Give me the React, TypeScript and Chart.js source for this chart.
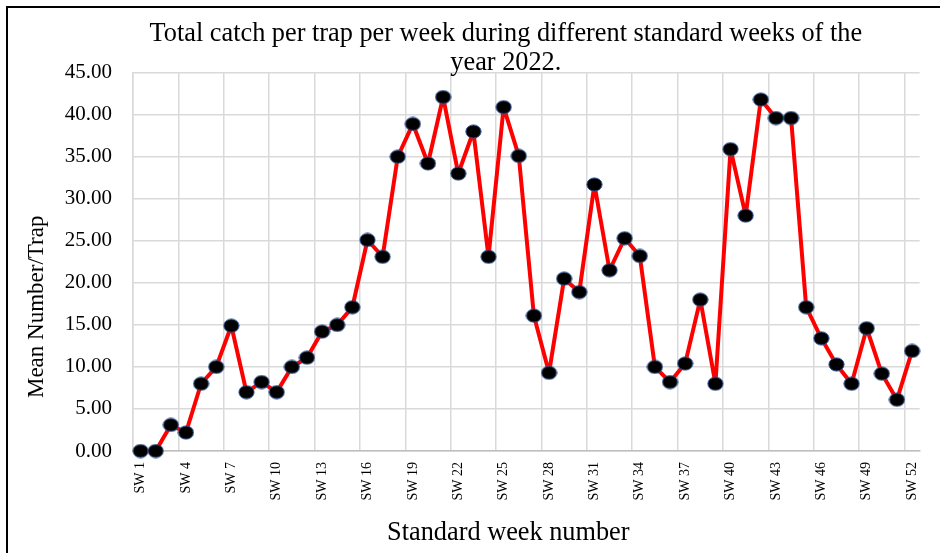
import React, { useEffect, useRef } from "react";
import { Chart, registerables } from "chart.js";

Chart.register(...registerables);

const titleLines = [
  "Total catch per trap per week during different standard weeks of the",
  "year 2022.",
];
const yAxisTitle = "Mean Number/Trap";
const xAxisTitle = "Standard week number";

const weeks = [
  "SW 1", "SW 2", "SW 3", "SW 4", "SW 5", "SW 6", "SW 7", "SW 8", "SW 9", "SW 10",
  "SW 11", "SW 12", "SW 13", "SW 14", "SW 15", "SW 16", "SW 17", "SW 18", "SW 19", "SW 20",
  "SW 21", "SW 22", "SW 23", "SW 24", "SW 25", "SW 26", "SW 27", "SW 28", "SW 29", "SW 30",
  "SW 31", "SW 32", "SW 33", "SW 34", "SW 35", "SW 36", "SW 37", "SW 38", "SW 39", "SW 40",
  "SW 41", "SW 42", "SW 43", "SW 44", "SW 45", "SW 46", "SW 47", "SW 48", "SW 49", "SW 50",
  "SW 51", "SW 52",
];

const meanPerTrap = [
  0, 0, 3.1, 2.2, 8.0, 10.0, 14.9, 7.0, 8.2, 7.0,
  10.0, 11.1, 14.2, 15.0, 17.1, 25.1, 23.1, 35.0, 38.9, 34.2,
  42.1, 33.0, 38.0, 23.1, 40.9, 35.1, 16.1, 9.3, 20.5, 18.9,
  31.7, 21.5, 25.3, 23.2, 10.0, 8.2, 10.4, 18.0, 8.0, 35.9,
  28.0, 41.8, 39.6, 39.6, 17.1, 13.4, 10.3, 8.0, 14.6, 9.2,
  6.1, 11.9,
];

const yMin = 0;
const yMax = 45;
const yStep = 5;
const labelEvery = 3;

function makeMarker(): HTMLCanvasElement {
  const c = document.createElement("canvas");
  c.width = 17;
  c.height = 15;
  const g = c.getContext("2d")!;
  g.beginPath();
  g.ellipse(8.5, 7.5, 7.6, 6.6, 0, 0, Math.PI * 2);
  g.fillStyle = "#000000";
  g.fill();
  g.lineWidth = 1;
  g.strokeStyle = "#2f5597";
  g.stroke();
  return c;
}

// Move an axis title relative to its default centred position.
function shiftAxisTitle(scale: any, dx: number, dy: number) {
  if (!scale || scale.__titleShifted) return;
  const orig = scale.drawTitle;
  scale.drawTitle = function (this: any, ...args: any[]) {
    this.left += dx; this.right += dx; this.top += dy; this.bottom += dy;
    try {
      return orig.apply(this, args);
    } finally {
      this.left -= dx; this.right -= dx; this.top -= dy; this.bottom -= dy;
    }
  };
  scale.__titleShifted = true;
}

const titleShift = {
  id: "titleShift",
  afterLayout(chart: any) {
    const t = chart.titleBlock;
    if (t) {
      t.left = chart.chartArea.left - 41;
      t.right = chart.chartArea.right;
    }
    shiftAxisTitle(chart.scales.x, -18, 0);
    shiftAxisTitle(chart.scales.y, 0, 45);
  },
};

export default function App() {
  const ref = useRef<HTMLCanvasElement | null>(null);

  useEffect(() => {
    if (!ref.current) return;
    const marker = makeMarker();
    const serif = "'Liberation Serif', 'Times New Roman', serif";
    const chart = new Chart(ref.current, {
      type: "line",
      data: {
        labels: weeks,
        datasets: [
          {
            data: meanPerTrap,
            borderColor: "#ff0000",
            borderWidth: 4,
            borderJoinStyle: "round",
            borderCapStyle: "round",
            tension: 0,
            pointStyle: marker as any,
            pointRadius: 7,
            pointHoverRadius: 7,
            pointBackgroundColor: "#000000",
            clip: false as any,
          },
        ],
      },
      plugins: [titleShift],
      options: {
        animation: false,
        responsive: false,
        devicePixelRatio: 1,
        layout: { padding: { left: 0, right: 8, top: 0, bottom: 0 } },
        plugins: {
          legend: { display: false },
          tooltip: { enabled: false },
          title: {
            display: true,
            text: titleLines,
            color: "#000000",
            font: { family: serif, size: 26.3, weight: "normal", lineHeight: 1.1 },
            padding: { top: 19.7, bottom: -4.9 },
          },
        },
        scales: {
          x: {
            type: "category",
            offset: true,
            afterFit: (s: any) => {
              s.height = 102;
            },
            grid: {
              offset: true,
              drawTicks: false,
              lineWidth: 1.5,
              color: (ctx: any) =>
                ctx.index % labelEvery === 0 ? "#d9d9d9" : "rgba(0,0,0,0)",
            },
            border: { display: true, color: "#bfbfbf", width: 1.5 },
            ticks: {
              autoSkip: false,
              minRotation: 90,
              maxRotation: 90,
              padding: 11,
              color: "#000000",
              font: { family: serif, size: 14 },
              callback: (_v: any, i: number) =>
                i % labelEvery === 0 ? weeks[i] : "",
            },
            title: {
              display: true,
              text: xAxisTitle,
              color: "#000000",
              font: { family: serif, size: 26.3, lineHeight: 1.2 },
              padding: { top: 0, bottom: 4 },
            },
          },
          y: {
            min: yMin,
            max: yMax,
            afterFit: (s: any) => {
              s.width = 133;
            },
            grid: { drawTicks: false, color: "#d9d9d9", lineWidth: 1.5 },
            border: { display: true, color: "#d9d9d9", width: 1.5 },
            ticks: {
              stepSize: yStep,
              padding: 21,
              color: "#000000",
              font: { family: serif, size: 21 },
              callback: (v: any) => Number(v).toFixed(2),
            },
            title: {
              display: true,
              text: yAxisTitle,
              color: "#000000",
              font: { family: serif, size: 23, lineHeight: 1.2 },
              padding: { top: 23.2, bottom: 0 },
            },
          },
        },
      },
    });
    return () => chart.destroy();
  }, []);

  return (
    <div
      style={{
        position: "fixed",
        left: 0,
        top: 0,
        width: 940,
        height: 553,
        background: "#ffffff",
        overflow: "hidden",
      }}
    >
      <canvas ref={ref} width={940} height={553} style={{ display: "block" }} />
      <div
        style={{
          position: "absolute",
          left: 6,
          top: 6,
          width: 940,
          height: 553,
          borderLeft: "2px solid #000",
          borderTop: "2px solid #000",
          pointerEvents: "none",
        }}
      />
    </div>
  );
}
